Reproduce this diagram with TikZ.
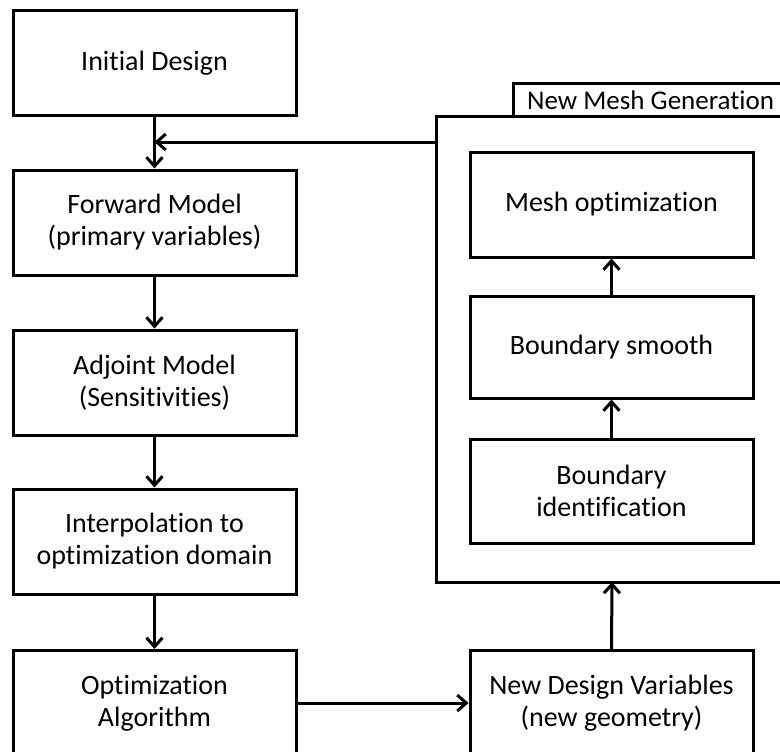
\documentclass[tikz,border=0pt]{standalone}
\usepackage{fontspec}
\setmainfont[Ligatures=NoCommon]{Carlito}
\usetikzlibrary{arrows.meta}
\begin{document}
\begin{tikzpicture}[x=1pt,y=-1pt,
  box/.style={draw,line width=3pt,minimum width=283pt,minimum height=105pt,
    align=center,font=\fontsize{28}{32}\selectfont,inner sep=0pt},
  conn/.style={line width=3pt,-{Straight Barb[length=9pt,width=16pt,line width=3pt]}},
  frame/.style={draw,line width=3pt}]
\useasboundingbox (0,0) rectangle (780,752);
% left column
\node[box] (init) at (154.5,63) {Initial Design};
\node[box] (fwd) at (154.5,222.5) {Forward Model\\(primary variables)};
\node[box] (adj) at (154.5,382.5) {Adjoint Model\\(Sensitivities)};
\node[box] (interp) at (154.5,541.5) {Interpolation to\\optimization domain};
\node[box] (opt) at (154.5,703) {Optimization\\Algorithm};
% mesh generation group
\draw[frame] (800,84) -- (513,84) -- (513,117);
\node[anchor=base west,font=\fontsize{27}{32}\selectfont,inner sep=0pt] (grouplbl) at (527,110) {New Mesh Generation};
\draw[frame] (800,117) -- (436,117) -- (436,582) -- (800,582);
\coordinate (grpleft) at (436,142);
\coordinate (grpbot) at (612,582);
\node[box] (mesh) at (611.5,204.5) {Mesh optimization};
\node[box,minimum height=102pt] (smooth) at (611.5,347) {Boundary smooth};
\node[box,minimum height=104pt] (ident) at (611.5,491) {Boundary\\identification};
\node[box] (newdv) at (611.5,703) {New Design Variables\\(new geometry)};
% connectors
\draw[conn] (init.south) -- (fwd.north);
\coordinate (join) at (init.south |- grpleft);
\draw[conn] (grpleft) -- (join);
\draw[conn] (fwd) -- (adj);
\draw[conn] (adj) -- (interp);
\draw[conn] (interp) -- (opt);
\draw[conn] (opt.east) -- (newdv.west);
\draw[conn] (newdv.north) -- (grpbot);
\draw[conn] (ident) -- (smooth);
\draw[conn] (smooth) -- (mesh);
\end{tikzpicture}
\end{document}
